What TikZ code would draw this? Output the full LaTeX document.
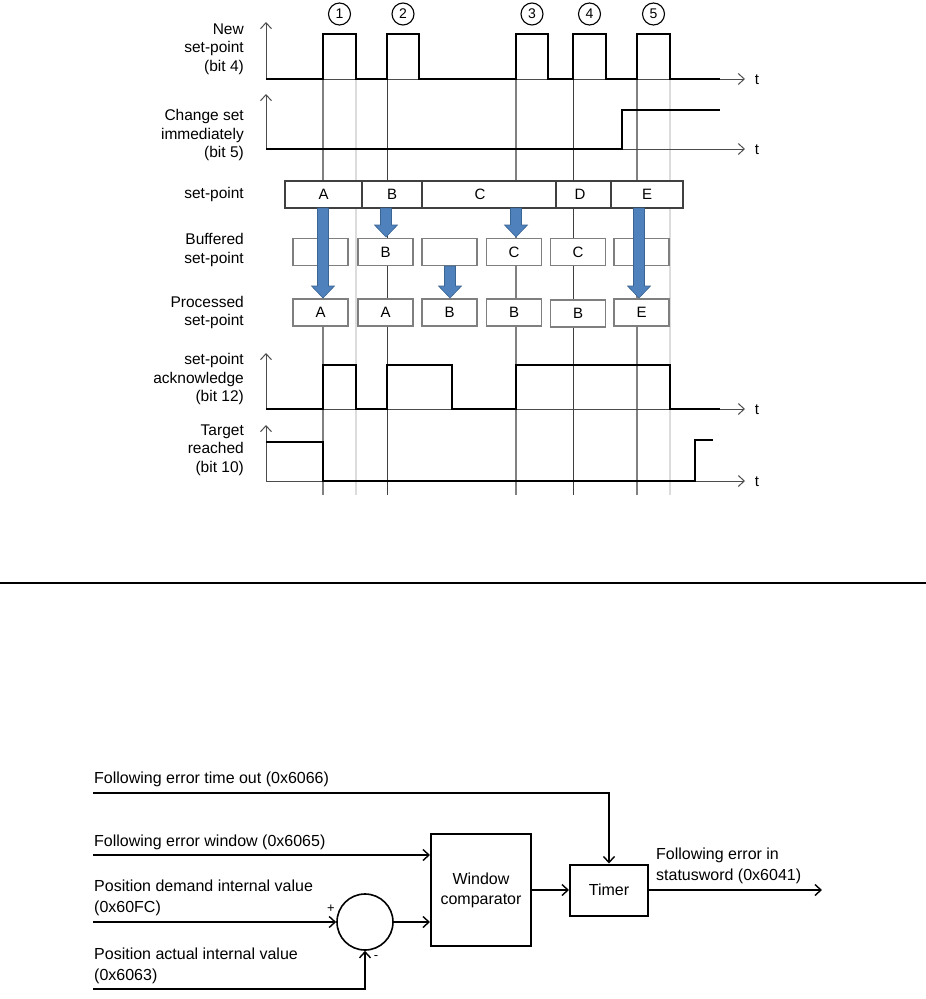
\documentclass[tikz,border=0pt]{standalone}
\usepackage{fontspec}
\setmainfont{Liberation Sans}
\usetikzlibrary{arrows.meta}
\definecolor{guide}{HTML}{808080}
\definecolor{guidedk}{HTML}{3F3F3F}
\definecolor{guidelt}{HTML}{DCDCDC}
\definecolor{fatfill}{HTML}{4F81BD}
\definecolor{fatline}{HTML}{3A6492}
\definecolor{boxgray}{HTML}{7F7F7F}
\definecolor{spgray}{HTML}{404040}
\newcommand\fatarr[3]{\filldraw[fatarrow] (#1-5.5,#2) -- (#1+5.5,#2) -- (#1+5.5,#3-12) -- (#1+11.5,#3-12) -- (#1,#3) -- (#1-11.5,#3-12) -- (#1-5.5,#3-12) -- cycle;}
\begin{document}
\begin{tikzpicture}[x=1pt,y=-1pt,
  lbl/.style={anchor=east,align=right,font=\fontsize{15.5}{18.5}\selectfont,inner sep=0pt},
  tlbl/.style={font=\fontsize{15}{18}\selectfont,inner sep=0pt},
  sig/.style={line width=2.3pt,line join=miter},
  axisline/.style={draw=black!70,line width=1pt,-{Straight Barb[length=6pt,width=11pt]}},
  gline/.style={draw=guide,line width=1.2pt},
  gdark/.style={draw=guidedk,line width=1pt},
  glight/.style={draw=guidelt,line width=1.2pt},
  spbox/.style={draw=spgray,line width=1.1pt,fill=white,minimum height=27,inner sep=0pt,font=\fontsize{15}{18}\selectfont},
  rbox/.style={draw=boxgray,line width=1.5pt,fill=white,minimum width=55,minimum height=27,inner sep=0pt,font=\fontsize{15}{18}\selectfont},
  fatarrow/.style={fill=fatfill,draw=fatline,line width=0.6pt},
  numc/.style={circle,draw,line width=1.1pt,minimum size=22,inner sep=0pt,font=\fontsize{14}{14}\selectfont},
  blk/.style={draw,line width=2pt,inner sep=0pt,align=center,font=\fontsize{16}{20}\selectfont},
  conn/.style={line width=1.4pt,-{Straight Barb[length=6pt,width=11pt]}},
  btxt/.style={anchor=west,align=left,inner sep=0pt,font=\fontsize{16}{21}\selectfont}
]
\useasboundingbox (0,0) rectangle (926,999);

% guide lines
\foreach \gx in {323,516,637} \draw[gline] (\gx,34) -- (\gx,495);
\foreach \gx in {387,573} \draw[gdark] (\gx,34) -- (\gx,495);
\foreach \gx in {356,670} \draw[glight] (\gx,79) -- (\gx,495);

% circled numbers
\node[numc] (n1) at (339.5,14) {1};
\node[numc] (n2) at (403,14) {2};
\node[numc] (n3) at (532,14) {3};
\node[numc] (n4) at (589.5,14) {4};
\node[numc] (n5) at (653.5,14) {5};

% row labels
\node[lbl] (l1) at (244,49) {New\\set-point\\(bit 4)};
\node[lbl] (l2) at (244,135) {Change set\\immediately\\(bit 5)};
\node[lbl] (l3) at (244,194.5) {set-point};
\node[lbl] (l4) at (244,250) {Buffered\\set-point};
\node[lbl] (l5) at (244,312.5) {Processed\\set-point};
\node[lbl] (l6) at (244,379) {set-point\\acknowledge\\(bit 12)};
\node[lbl] (l7) at (244,450) {Target\\reached\\(bit 10)};

% axes
\draw[axisline] (266,79) -- (266,22);
\draw[axisline] (266,79) -- (745,79);
\draw[axisline] (266,149) -- (266,94);
\draw[axisline] (266,149) -- (745,149);
\draw[axisline] (266,409) -- (266,353);
\draw[axisline] (266,409) -- (745,409);
\draw[axisline] (266,481) -- (266,425);
\draw[axisline] (266,481) -- (745,481);
\node[tlbl] (t1) at (757,80) {t};
\node[tlbl] (t2) at (757,150) {t};
\node[tlbl] (t3) at (757,410) {t};
\node[tlbl] (t4) at (757,482) {t};

% signals
\draw[sig] (266,79) -- (323,79) -- (323,34) -- (356,34) -- (356,79) -- (387,79) -- (387,34) -- (419,34) -- (419,79) -- (516,79) -- (516,34) -- (548,34) -- (548,79) -- (573,79) -- (573,34) -- (606,34) -- (606,79) -- (637,79) -- (637,34) -- (670,34) -- (670,79) -- (720,79);
\draw[sig,line width=2pt] (266,149) -- (622,149) -- (622,110) -- (720,110);
\draw[sig] (266,409) -- (323,409) -- (323,365) -- (356,365) -- (356,409) -- (387,409) -- (387,365) -- (452,365) -- (452,409) -- (516,409) -- (516,365) -- (670,365) -- (670,409) -- (720,409);
\draw[sig] (266,442) -- (323,442) -- (323,481) -- (695,481) -- (695,440) -- (713,440);

% set-point boxes
\node[spbox,minimum width=77] (spA) at (323.5,194.5) {A};
\node[spbox,minimum width=60] (spB) at (392,194.5) {B};
\node[spbox,minimum width=134] (spC) at (489,194.5) {};
\node[tlbl] (spCt) at (480,194.5) {C};
\node[spbox,minimum width=55] (spD) at (583.5,194.5) {};
\node[tlbl] (spDt) at (580,194.5) {D};
\node[spbox,minimum width=72] (spE) at (647,194.5) {E};

% buffered boxes
\node[rbox] (b1) at (320.5,252) {};
\node[rbox] (b2) at (385.5,252) {B};
\node[rbox] (b3) at (449.5,252) {};
\node[rbox] (b4) at (514,252) {C};
\node[rbox] (b5) at (578,252) {C};
\node[rbox] (b6) at (641.5,252) {};

% processed boxes
\node[rbox] (p1) at (320.5,312.5) {A};
\node[rbox] (p2) at (385.5,312.5) {A};
\node[rbox] (p3) at (449.5,312.5) {B};
\node[rbox] (p4) at (514,312.5) {B};
\node[rbox] (p5) at (578,313.5) {B};
\node[rbox] (p6) at (641.5,312.5) {E};

% fat arrows
\fatarr{323}{208}{298}
\fatarr{386}{208}{237}
\fatarr{450}{266}{298}
\fatarr{516}{208}{237}
\fatarr{639}{208}{298}

% separator
\draw[line width=1.3pt] (0,583) -- (926,583);

% ---- bottom block diagram ----
\coordinate (in1) at (93,793);
\coordinate (in2) at (93,855);
\coordinate (in3) at (93,922);
\coordinate (in4) at (93,989);
\coordinate (out) at (822,890);
\node[blk,minimum width=100,minimum height=112] (wc) at (481,890) {Window\\comparator};
\node[blk,minimum width=78,minimum height=51] (tm) at (609,890) {Timer};
\node[circle,draw,line width=1.6pt,minimum size=56,inner sep=0pt] (sum) at (365,922) {};

\node[btxt] (tx1) at (94,779) {Following error time out (0x6066)};
\node[btxt] (tx2) at (94,842) {Following error window (0x6065)};
\node[btxt] (tx3) at (94,898) {Position demand internal value\\(0x60FC)};
\node[btxt] (tx4) at (94,965.5) {Position actual internal value\\(0x6063)};
\node[btxt] (tx5) at (656,866) {Following error in\\statusword (0x6041)};
\node[font=\fontsize{13}{13}\selectfont,inner sep=0pt] (plus) at (331,909) {+};
\node[font=\fontsize{13}{13}\selectfont,inner sep=0pt] (minus) at (376,958) {-};

\draw[conn] (in1) -| (tm.north);
\draw[conn] (in2) -- (in2 -| wc.west);
\draw[conn] (in3) -- (sum.west);
\draw[conn] (in4) -| (sum.south);
\draw[conn] (sum.east) -- (sum.east -| wc.west);
\draw[conn] (wc.east) -- (tm.west);
\draw[conn] (tm.east) -- (out);
\end{tikzpicture}
\end{document}
